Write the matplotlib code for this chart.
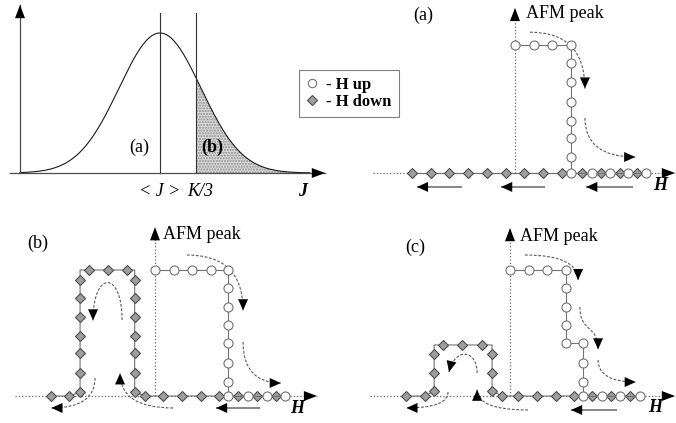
import numpy as np
import matplotlib.pyplot as plt
from matplotlib.path import Path
from matplotlib.patches import PathPatch, FancyArrowPatch
from matplotlib.lines import Line2D

# exchange distribution (top left)
j_mean = 1.40
j_k3 = 1.76
j_sigma = 0.41

# (a) H up / H down
a_up_h = [0, 1, 2, 3, 3, 3, 3, 3, 3, 3, 3, 4.15, 5.15, 6.1, 7.1]
a_up_m = [1, 1, 1, 1, 0.86, 0.71, 0.555, 0.41, 0.27, 0.125, 0, 0, 0, 0, 0]
a_down_h = [6.6, 5.65, 4.65, 3.6, 2.55, 1.5, 0.5, -0.5, -1.5, -2.55, -3.55, -4.55, -5.55]
a_down_m = [0] * 13

# (b)
b_up_h = [0, 1, 2, 3, 3.95, 3.95, 3.95, 3.95, 3.95, 3.95, 3.95, 3.95, 5.0, 6.05, 7.05]
b_up_m = [1, 1, 1, 1, 1, 0.857, 0.706, 0.563, 0.42, 0.262, 0.111, 0, 0, 0, 0]
b_down_h = [6.55, 5.5, 4.5, 3.45, 2.5, 1.45, 0.45, -0.55,
            -1.1, -1.1, -1.1, -1.1, -1.1, -1.1, -1.1, -1.1,
            -1.5, -2.55, -3.55, -4.05,
            -4.05, -4.05, -4.05, -4.05, -4.05, -4.05, -4.05, -4.65, -5.6]
b_down_m = [0, 0, 0, 0, 0, 0, 0, 0,
            0.03, 0.18, 0.34, 0.48, 0.63, 0.78, 0.92, 1,
            1, 1, 1, 1,
            0.92, 0.78, 0.63, 0.48, 0.34, 0.18, 0.03, 0, 0]
b_down_bare = [15, 19]

# (c)
c_up_h = [0, 1, 2, 3, 3, 3, 3, 3, 3.95, 3.95, 3.95, 3.95, 4.97, 5.95, 7.03]
c_up_m = [1, 1, 1, 1, 0.857, 0.706, 0.563, 0.42, 0.42, 0.262, 0.111, 0, 0, 0, 0]
c_down_h = [6.49, 5.46, 4.43, 3.46, 2.49, 1.46, 0.43, -0.43,
            -0.97, -0.97, -0.97, -0.97,
            -1.51, -2.59, -3.62, -4.1,
            -4.1, -4.1, -4.1, -4.59, -5.62]
c_down_m = [0, 0, 0, 0, 0, 0, 0, 0,
            0.04, 0.183, 0.333, 0.405,
            0.405, 0.405, 0.405, 0.405,
            0.333, 0.183, 0.04, 0, 0]
c_down_bare = [11, 15]

W, H = 676, 423
plt.rcParams['font.family'] = ['Liberation Serif', 'DejaVu Serif']
fig = plt.figure(figsize=(W / 100, H / 100), dpi=100)


def panel_axes(box, x0, y0, sx, sy):
    # box in figure pixels (left, top, right, bottom); data origin at pixel (x0, y0)
    l, t, r, b = box
    ax = fig.add_axes([l / W, 1 - b / H, (r - l) / W, (b - t) / H])
    ax.set_xlim((l - x0) / sx, (r - x0) / sx)
    ax.set_ylim((y0 - b) / sy, (y0 - t) / sy)
    ax.axis('off')
    return ax


def head(ax, tail, tip, hl=0.8, hw=0.36):
    ax.add_patch(FancyArrowPatch(tuple(tail), tuple(tip),
                                 arrowstyle=f'-|>,head_length={hl},head_width={hw}',
                                 mutation_scale=10, color='k', lw=0,
                                 shrinkA=0, shrinkB=0, zorder=5))


def curve_arrow(ax, pts, ls=(0, (2.5, 1.5)), color='0.35', lw=0.8):
    pts = np.asarray(pts, float)
    kind = {2: Path.LINETO, 3: Path.CURVE3, 4: Path.CURVE4}[len(pts)]
    codes = [Path.MOVETO] + [kind] * (len(pts) - 1)
    ax.add_patch(PathPatch(Path(pts, codes), fill=False, ec=color, lw=lw, ls=ls))
    head(ax, pts[-1] - 0.05 * (pts[-1] - pts[-2]), pts[-1])


def axis_arrow(ax, p0, p1, ls=':', color='0.4'):
    ax.plot([p0[0], p1[0]], [p0[1], p1[1]], ls=ls, color=color, lw=0.9)
    p0, p1 = np.asarray(p0, float), np.asarray(p1, float)
    head(ax, p1 - 0.05 * (p1 - p0), p1, hl=0.95, hw=0.36)


circ = dict(marker='o', ms=6.5, mfc='white', mec='0.45', mew=0.8)
diam = dict(marker='D', ms=5.2, mfc='0.62', mec='0.3', mew=0.8)


def hysteresis(ax, up_h, up_m, dn_h, dn_m, bare=()):
    keep = [i for i in range(len(dn_h)) if i not in bare]
    ax.plot(dn_h, dn_m, color='0.45', lw=0.8, markevery=keep, zorder=3, **diam)
    ax.plot(up_h, up_m, color='0.45', lw=0.8, zorder=4, **circ)


# ---- top left: distribution of J
ax0 = panel_axes((0, 0, 340, 200), 20, 173, 100, 140)
jj = np.linspace(0, 2.9, 400)
pj = np.exp(-0.5 * ((jj - j_mean) / j_sigma) ** 2)
sel = jj >= j_k3
ax0.fill_between(jj[sel], pj[sel], 0, facecolor='0.86', hatch='......',
                 edgecolor='0.55', lw=0)
ax0.plot(jj, pj, color='0.1', lw=0.8)
ax0.plot([j_mean, j_mean], [0, 1.143], color='0.2', lw=0.8)
ax0.plot([j_k3, j_k3], [0, 1.143], color='0.2', lw=0.8)
axis_arrow(ax0, (-0.1, 0), (3.05, 0), ls='-', color='0.3')
axis_arrow(ax0, (0, 0), (0, 1.2), ls='-', color='0.3')
ax0.text(1.19, 0.186, '(a)', fontsize=13, ha='center', va='center')
ax0.text(1.92, 0.186, '(b)', fontsize=13, ha='center', va='center', weight='bold')
ax0.text(j_mean, -0.13, '< J >', fontsize=13, ha='center', va='center', style='italic')
ax0.text(j_k3 + 0.04, -0.13, 'K/3', fontsize=13, ha='center', va='center', style='italic')
ax0.text(2.83, -0.13, 'J', fontsize=13, ha='center', va='center', style='italic', weight='bold')

handles = [Line2D([], [], ls='none', marker='o', ms=6, mfc='white', mec='0.45', mew=0.8),
           Line2D([], [], ls='none', marker='D', ms=5, mfc='0.62', mec='0.3', mew=0.8)]
leg = fig.legend(handles, ['- H up', '- H down'], loc='upper left',
                 bbox_to_anchor=(299 / W, 1 - 70 / H), borderaxespad=0,
                 prop={'family': 'Liberation Serif', 'weight': 'bold', 'size': 12},
                 frameon=True, fancybox=False, edgecolor='0.5', framealpha=1,
                 handlelength=0.8, handletextpad=0.45, labelspacing=0.1, borderpad=0.4)
leg.get_frame().set_linewidth(0.8)

# ---- (a)
axa = panel_axes((340, 0, 676, 200), 515, 173, 18.5, 128)
axis_arrow(axa, (-7.7, 0), (8.65, 0))
axis_arrow(axa, (0, 0), (0, 1.29))
hysteresis(axa, a_up_h, a_up_m, a_down_h, a_down_m)
curve_arrow(axa, [(0.81, 1.10), (3.78, 1.10), (3.78, 0.66)])
curve_arrow(axa, [(3.78, 0.43), (3.78, 0.125), (6.5, 0.125)])
for s, e in [(-2.86, -5.3), (1.62, -0.75), (6.38, 3.85)]:
    curve_arrow(axa, [(s, -0.109), (e, -0.109)], ls='-', color='0.45', lw=1.2)
axa.text(-4.97, 1.234, '(a)', fontsize=13, ha='center', va='center')
axa.text(0.62, 1.25, 'AFM peak', fontsize=13, ha='left', va='center')
axa.text(7.84, -0.094, 'H', fontsize=13, ha='center', va='center', style='italic', weight='bold')

# ---- (b)
axb = panel_axes((0, 200, 340, 423), 155, 396, 18.5, 126)
axis_arrow(axb, (-7.57, 0), (8.76, 0))
axis_arrow(axb, (0, 0), (0, 1.34))
hysteresis(axb, b_up_h, b_up_m, b_down_h, b_down_m, b_down_bare)
curve_arrow(axb, [(1.73, 1.119), (4.76, 1.119), (4.76, 0.68)])
curve_arrow(axb, [(4.76, 0.429), (4.76, 0.103), (6.8, 0.103)])
curve_arrow(axb, [(-1.78, 0.603), (-1.78, 1.0), (-3.35, 1.0), (-3.35, 0.60)])
curve_arrow(axb, [(-3.24, 0.143), (-3.24, -0.095), (-5.6, -0.095)])
curve_arrow(axb, [(0.97, -0.095), (-1.89, -0.095), (-1.89, 0.18)])
curve_arrow(axb, [(5.68, -0.095), (3.3, -0.095)], ls='-', color='0.45', lw=1.2)
axb.text(-6.32, 1.214, '(b)', fontsize=13, ha='center', va='center')
axb.text(0.43, 1.278, 'AFM peak', fontsize=13, ha='left', va='center')
axb.text(7.68, -0.103, 'H', fontsize=13, ha='center', va='center', style='italic', weight='bold')

# ---- (c)
axc = panel_axes((340, 200, 676, 423), 510, 396, 18.5, 126)
axis_arrow(axc, (-7.57, 0), (8.92, 0))
axis_arrow(axc, (0, 0), (0, 1.333))
hysteresis(axc, c_up_h, c_up_m, c_down_h, c_down_m, c_down_bare)
curve_arrow(axc, [(0.81, 1.119), (3.68, 1.119), (3.68, 0.92)])
curve_arrow(axc, [(3.78, 0.706), (3.78, 0.50), (4.76, 0.57), (4.76, 0.37)])
curve_arrow(axc, [(4.76, 0.286), (4.76, 0.111), (6.8, 0.111)])
curve_arrow(axc, [(-1.78, 0.183), (-1.78, 0.37), (-2.97, 0.39), (-3.3, 0.19)])
curve_arrow(axc, [(-3.35, 0.032), (-3.35, -0.095), (-5.6, -0.095)])
curve_arrow(axc, [(0.97, -0.111), (-1.78, -0.111), (-1.78, 0.05)])
curve_arrow(axc, [(5.78, -0.111), (3.3, -0.111)], ls='-', color='0.45', lw=1.2)
axc.text(-5.14, 1.183, '(c)', fontsize=13, ha='center', va='center')
axc.text(0.54, 1.262, 'AFM peak', fontsize=13, ha='left', va='center')
axc.text(7.84, -0.095, 'H', fontsize=13, ha='center', va='center', style='italic', weight='bold')

fig.savefig('out.png', dpi=100)
